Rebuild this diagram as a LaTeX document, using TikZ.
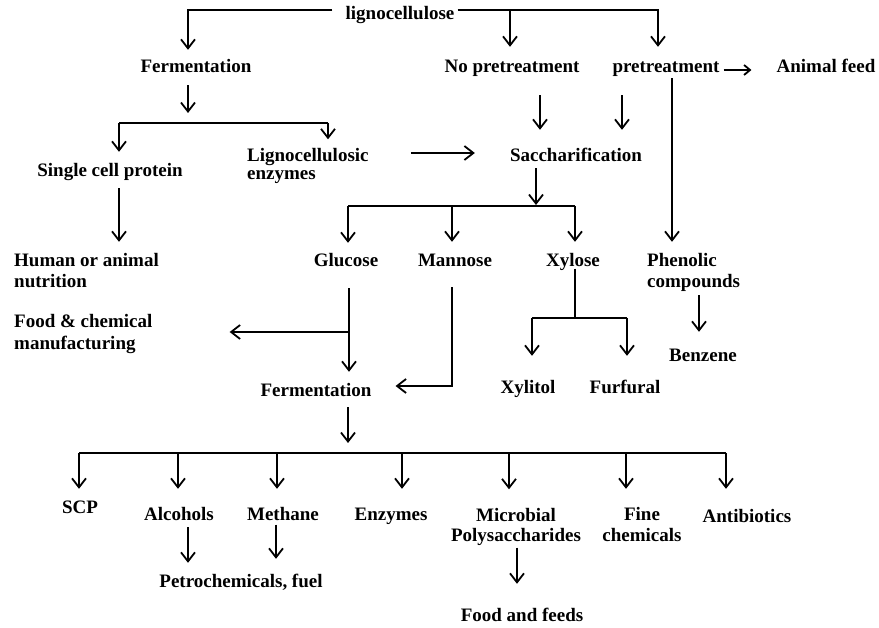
\documentclass[tikz,border=0pt]{standalone}
\usepackage{fontspec}
\setmainfont{Liberation Serif}
\usetikzlibrary{arrows.meta}
\begin{document}
\begin{tikzpicture}[x=1pt,y=-1pt,
  lbl/.style={font=\fontsize{19}{21}\selectfont\bfseries, inner sep=0pt, text height=13pt, text depth=4pt},
  mlbl/.style={font=\fontsize{19}{21}\selectfont\bfseries, inner sep=0pt},
  ln/.style={line width=1.8pt},
  arr/.style={line width=1.8pt, -{Straight Barb[length=9pt,width=14pt,line width=1.8pt]}},
  arrs/.style={line width=1.8pt, -{Straight Barb[length=6pt,width=10pt,line width=1.8pt]}}]
\useasboundingbox (0,0) rectangle (879,628);
% nodes
\node[lbl] (lig) at (400,15) {lignocellulose};
\node[lbl] (ferm1) at (196,68) {Fermentation};
\node[lbl] (nopre) at (512,68) {No pretreatment};
\node[lbl] (pre) at (666,68) {pretreatment};
\node[lbl] (feed) at (826,68) {Animal feed};
\node[lbl] (scp1) at (110,172) {Single cell protein};
\node[mlbl,anchor=west] (lce) at (247,166) {\begin{tabular}{@{}l@{}}Lignocellulosic\\[-3pt]enzymes\end{tabular}};
\node[lbl] (sacch) at (576,157) {Saccharification};
\node[mlbl,anchor=west] (human) at (14,272.5) {\begin{tabular}{@{}l@{}}Human or animal\\nutrition\end{tabular}};
\node[lbl] (glucose) at (346,262) {Glucose};
\node[lbl] (mannose) at (455,262) {Mannose};
\node[lbl] (xylose) at (573,262) {Xylose};
\node[mlbl,anchor=west] (phen) at (647,272.5) {\begin{tabular}{@{}l@{}}Phenolic\\compounds\end{tabular}};
\node[mlbl,anchor=west] (food) at (14,334) {\begin{tabular}{@{}l@{}}Food \& chemical\\[1pt]manufacturing\end{tabular}};
\node[lbl] (ferm2) at (316,392) {Fermentation};
\node[lbl] (benzene) at (703,357) {Benzene};
\node[lbl] (xylitol) at (528,389) {Xylitol};
\node[lbl] (furfural) at (625,389) {Furfural};
\node[lbl] (scp2) at (80,509) {SCP};
\node[lbl] (alc) at (179,516) {Alcohols};
\node[lbl] (meth) at (283,516) {Methane};
\node[lbl] (enz) at (391,516) {Enzymes};
\node[mlbl] (micro) at (516,527) {\begin{tabular}{@{}c@{}}Microbial\\[-1pt]Polysaccharides\end{tabular}};
\node[mlbl] (fine) at (642,526.5) {\begin{tabular}{@{}c@{}}Fine\\chemicals\end{tabular}};
\node[lbl] (anti) at (747,518) {Antibiotics};
\node[lbl] (petro) at (241,583) {Petrochemicals, fuel};
\node[lbl] (ff) at (522,617) {Food and feeds};
% fork coordinates
\coordinate (tl) at ([yshift=5pt]lig.east);
\coordinate (fk1l) at (119,123);
\coordinate (fk1r) at (328,123);
\coordinate (fk1m) at (188,123);
\coordinate (fk2l) at (348,206);
\coordinate (fk2r) at (575,206);
\coordinate (fk2n) at (452,206);
\coordinate (fk2m) at (536,206);
\coordinate (fk3l) at (532,318);
\coordinate (fk3r) at (627,318);
\coordinate (fk3m) at (575,318);
\coordinate (fk4l) at (79,453);
\coordinate (fk4r) at (726,453);
\coordinate (b2) at (178,453);
\coordinate (b3) at (277,453);
\coordinate (b4) at (402,453);
\coordinate (b5) at (509,453);
\coordinate (b6) at (626,453);
\coordinate (gb) at (349,332);
% top
\draw[arr] ([xshift=-13pt,yshift=5pt]lig.west) -| ([xshift=-8pt,yshift=9.5pt]ferm1.north);
\draw[arr] ([xshift=3pt,yshift=5pt]lig.east) -| ([xshift=-8pt,yshift=12.5pt]pre.north);
\draw[arr, shorten >=12.5pt] ([xshift=-2pt]tl -| nopre.north) -- ([xshift=-2pt]nopre.north);
\draw[arrs] ([xshift=4pt,yshift=-2pt]pre.east) -- ([xshift=-25pt,yshift=-2pt]feed.west);
% fermentation branch
\draw[arr, shorten <=8.5pt, shorten >=10pt] (ferm1.south -| fk1m) -- (fk1m);
\draw[ln] (fk1l) -- (fk1r);
\draw[arr, shorten >=11.5pt] (fk1l) -- (fk1l |- scp1.north);
\draw[arr, shorten >=7pt] (fk1r) -- (fk1r |- lce.north);
\draw[arr, shorten <=7.5pt, shorten >=9.5pt] (fk1l |- scp1.south) -- (fk1l |- human.north);
\coordinate (sacchtop) at ([yshift=4pt]sacch.west);
\draw[arr, shorten <=42pt, shorten >=35pt] (lce.east |- sacchtop) -- (sacchtop);
% pretreatment branches
\draw[arr] ([xshift=28pt,yshift=-18.5pt]nopre.south) -- ([xshift=-36pt,yshift=18.5pt]sacch.north);
\draw[arr] ([xshift=-44pt,yshift=-18.5pt]pre.south) -- ([xshift=46pt,yshift=18.5pt]sacch.north);
\coordinate (p8) at ([xshift=6pt,yshift=-1.5pt]pre.south);
\draw[arr, shorten >=9.5pt] (p8) -- (p8 |- phen.north);
% saccharification fork
\draw[arr, shorten >=1pt] ([xshift=-40pt,yshift=-2.5pt]sacch.south) -- (fk2m);
\draw[ln] (fk2l) -- (fk2r);
\draw[arr, shorten >=10.5pt] (fk2l) -- (fk2l |- glucose.north);
\draw[arr, shorten >=11.5pt] (fk2n) -- (fk2n |- mannose.north);
\draw[arr, shorten >=11.5pt] (fk2r) -- (fk2r |- xylose.north);
% glucose / mannose
\coordinate (g0) at ([xshift=3pt]glucose.south);
\draw[arr, shorten <=17.5pt, shorten >=11.5pt] (g0) -- (g0 |- ferm2.north);
\draw[arr, shorten >=77pt] (gb) -- (gb -| food.east);
\draw[arr, shorten <=16.5pt, shorten >=24pt] ([xshift=-3pt]mannose.south) |- ([yshift=6pt]ferm2.east);
% xylose
\draw[ln] ([xshift=2pt,yshift=2pt]xylose.south) -- (fk3m);
\draw[ln] (fk3l) -- (fk3r);
\draw[arr, shorten >=24.5pt] (fk3l) -- (fk3l |- xylitol.north);
\draw[arr, shorten >=24.5pt] (fk3r) -- (fk3r |- furfural.north);
% phenolic
\coordinate (bz) at ([xshift=-4pt]benzene.north);
\draw[arr, shorten <=1.5pt, shorten >=16.5pt] (bz |- phen.south) -- (bz);
% fermentation 2 fork
\coordinate (f2s) at ([xshift=32pt]ferm2.south);
\draw[arr, shorten <=6.5pt, shorten >=10pt] (f2s) -- (f2s |- fk4l);
\draw[ln] (fk4l) -- (fk4r);
\draw[arr, shorten >=11.5pt] (fk4l) -- (fk4l |- scp2.north);
\draw[arr, shorten >=18.5pt] (b2) -- (b2 |- alc.north);
\draw[arr, shorten >=18.5pt] (b3) -- (b3 |- meth.north);
\draw[arr, shorten >=18.5pt] (b4) -- (b4 |- enz.north);
\draw[arr, shorten >=17pt] (b5) -- (b5 |- micro.north);
\draw[arr, shorten >=16.5pt] (b6) -- (b6 |- fine.north);
\draw[arr, shorten >=20.5pt] (fk4r) -- (fk4r |- anti.north);
% products
\coordinate (al) at ([xshift=9pt]alc.south);
\draw[arr, shorten <=2.5pt, shorten >=11.5pt] (al) -- (al |- petro.north);
\coordinate (me) at ([xshift=-7pt]meth.south);
\draw[arr, shorten >=15.5pt] (me) -- (me |- petro.north);
\coordinate (mi) at ([xshift=1pt]micro.south);
\draw[arr, shorten >=24.5pt] (mi) -- (mi |- ff.north);
\end{tikzpicture}
\end{document}
